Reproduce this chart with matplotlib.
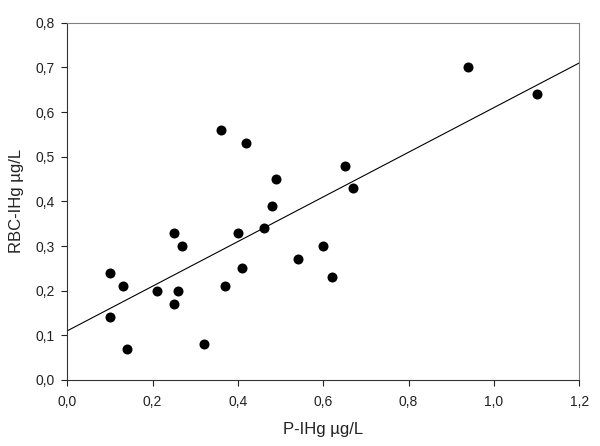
import matplotlib
matplotlib.use("Agg")
import matplotlib.pyplot as plt
from matplotlib.ticker import FuncFormatter
import numpy as np

plt.rcParams['font.family'] = ['Liberation Sans', 'DejaVu Sans']

p_ihg = [0.10, 0.10, 0.13, 0.14, 0.21, 0.25, 0.25, 0.26, 0.27, 0.32, 0.36, 0.37,
         0.40, 0.41, 0.42, 0.46, 0.48, 0.49, 0.54, 0.60, 0.62, 0.65, 0.67, 0.94, 1.10]
rbc_ihg = [0.24, 0.14, 0.21, 0.07, 0.20, 0.33, 0.17, 0.20, 0.30, 0.08, 0.56, 0.21,
           0.33, 0.25, 0.53, 0.34, 0.39, 0.45, 0.27, 0.30, 0.23, 0.48, 0.43, 0.70, 0.64]
fit_intercept = 0.11
fit_slope = 0.50
x_ticks = [0.0, 0.2, 0.4, 0.6, 0.8, 1.0, 1.2]
y_ticks = [0.0, 0.1, 0.2, 0.3, 0.4, 0.5, 0.6, 0.7, 0.8]

fig = plt.figure(figsize=(6, 4.46), dpi=100)
ax = fig.add_axes([0.112, 0.148, 0.8535, 0.801])

xl = np.array([0.0, 1.2])
ax.plot(xl, fit_intercept + fit_slope * xl, color='black', lw=0.8, zorder=2)
ax.scatter(p_ihg, rbc_ihg, s=52, color='black', zorder=3, linewidths=0)

ax.set_xlim(0, 1.2)
ax.set_ylim(0, 0.8)
ax.set_xticks(x_ticks)
ax.set_yticks(y_ticks)
fmt = FuncFormatter(lambda v, p: f"{v:.1f}".replace('.', ','))
ax.xaxis.set_major_formatter(fmt)
ax.yaxis.set_major_formatter(fmt)
ax.tick_params(direction='out', length=4, width=0.8, labelsize=10, colors='#222222', pad=5)
ax.tick_params(axis='x', pad=7)
for s in ['left', 'bottom']:
    ax.spines[s].set_color('#333333')
    ax.spines[s].set_linewidth(0.8)
for s in ['top', 'right']:
    ax.spines[s].set_color('#808080')
    ax.spines[s].set_linewidth(0.8)

ax.set_xlabel('P-IHg µg/L', fontsize=12, labelpad=9, color='#222222')
ax.set_ylabel('RBC-IHg µg/L', fontsize=12, labelpad=8, color='#222222')

fig.savefig('out.png', dpi=100)
